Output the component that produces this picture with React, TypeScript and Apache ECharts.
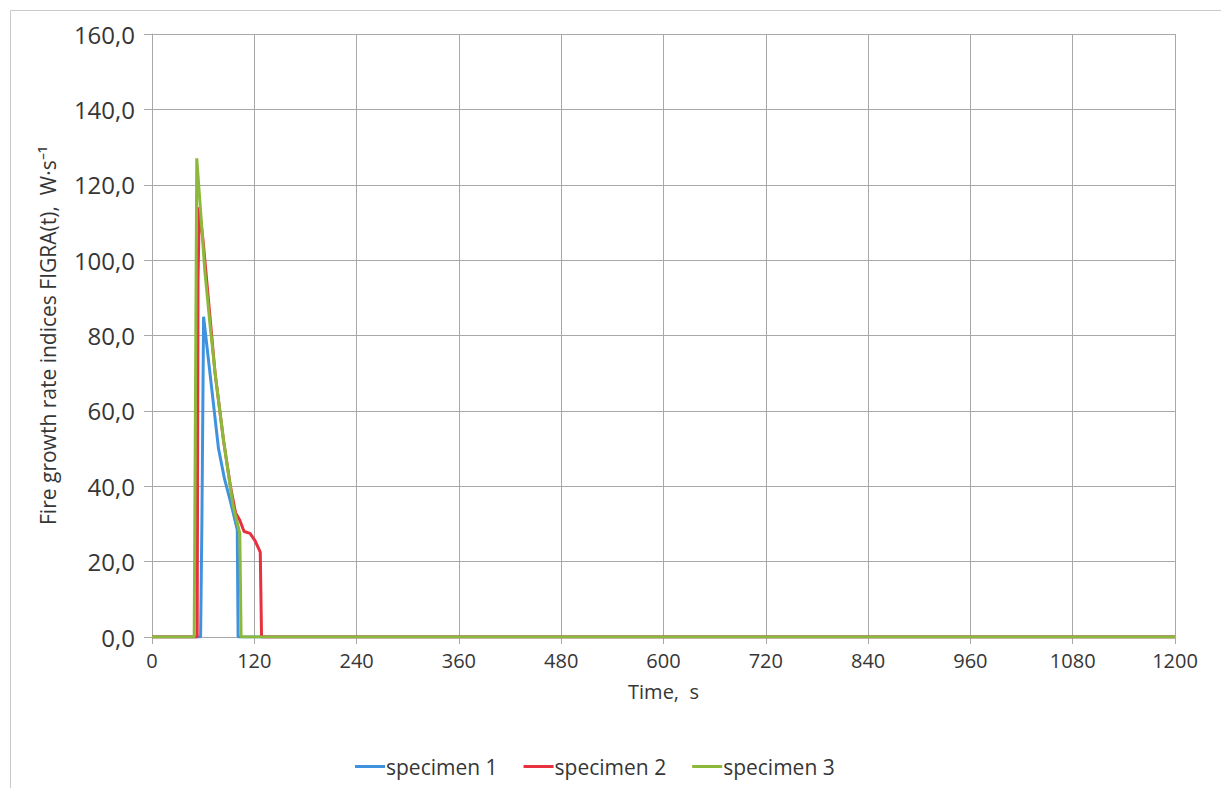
import React, { useEffect, useRef } from "react";
import * as echarts from "echarts";

const seriesNames = ["specimen 1", "specimen 2", "specimen 3"];
const seriesColors = ["#3f93de", "#e8313e", "#8db93b"];

// [time s, FIGRA W/s]
const specimen1: [number, number][] = [
  [0, 0], [57, 0], [58.5, 30], [60.5, 85], [63, 80], [66, 74], [72, 62], [78, 50],
  [85, 42], [92, 36], [100, 28.5], [101, 0], [1200, 0],
];
const specimen2: [number, number][] = [
  [0, 0], [53, 0], [54, 95], [55.5, 114], [60, 105], [66, 90], [74, 70], [84, 52],
  [92, 40], [98, 33], [103, 31], [108, 28], [115, 27.5], [121, 25.5], [127, 22.5],
  [128.5, 0], [1200, 0],
];
const specimen3: [number, number][] = [
  [0, 0], [49.5, 0], [52.5, 127], [57, 113], [62, 97], [68, 83], [74, 70], [84, 52],
  [95, 35], [103, 27.5], [104.5, 0], [1200, 0],
];

const xTicks = { min: 0, max: 1200, interval: 120 };
const yTicks = { min: 0, max: 160, interval: 20 };

const FONT = "'Open Sans', sans-serif";
const TEXT = "#363636";
const GRID = "#a8a8a8";

export default function App() {
  const ref = useRef<HTMLDivElement>(null);
  useEffect(() => {
    if (!ref.current) return;
    const chart = echarts.init(ref.current, undefined, { renderer: "svg" });
    const data = [specimen1, specimen2, specimen3];
    chart.setOption({
      animation: false,
      backgroundColor: "#ffffff",
      textStyle: { fontFamily: FONT, color: TEXT },
      graphic: [
        {
          type: "rect",
          shape: { x: 10.5, y: 10.5, width: 1400, height: 1000 },
          style: { fill: "none", stroke: "#c9c9c9", lineWidth: 1 },
          silent: true,
        },
      ],
      grid: { left: 152, right: 46, top: 34, bottom: 151, containLabel: false },
      legend: {
        bottom: 6,
        left: 350,
        icon: "rect",
        itemWidth: 30,
        itemHeight: 3,
        itemGap: 26,
        textStyle: { fontFamily: FONT, fontSize: 21, color: TEXT, padding: [0, 0, 0, -4] },
        data: seriesNames,
      },
      xAxis: {
        type: "value",
        min: xTicks.min,
        max: xTicks.max,
        interval: xTicks.interval,
        name: "Time,  s",
        nameLocation: "middle",
        nameGap: 44,
        nameTextStyle: { fontFamily: FONT, fontSize: 20, color: TEXT },
        axisLine: { show: true, lineStyle: { color: GRID, width: 1 } },
        axisTick: { show: true, length: 7, lineStyle: { color: GRID } },
        axisLabel: {
          fontFamily: FONT,
          fontSize: 20,
          color: TEXT,
          margin: 13,
          formatter: (v: number) => String(v),
        },
        splitLine: { show: true, lineStyle: { color: GRID, width: 1 } },
      },
      yAxis: {
        type: "value",
        min: yTicks.min,
        max: yTicks.max,
        interval: yTicks.interval,
        name: "Fire growth rate indices FIGRA(t),  W·s⁻¹",
        nameLocation: "middle",
        nameGap: 94,
        nameRotate: 90,
        nameTextStyle: { fontFamily: FONT, fontSize: 21, color: TEXT },
        axisLine: { show: true, lineStyle: { color: GRID, width: 1 } },
        axisTick: { show: true, length: 8, lineStyle: { color: GRID } },
        axisLabel: {
          fontFamily: FONT,
          fontSize: 24,
          color: TEXT,
          margin: 17,
          formatter: (v: number) => v.toFixed(1).replace(".", ","),
        },
        splitLine: { show: true, lineStyle: { color: GRID, width: 1 } },
      },
      series: seriesNames.map((name, i) => ({
        name,
        type: "line",
        data: data[i],
        symbol: "none",
        color: seriesColors[i],
        lineStyle: { width: 3, color: seriesColors[i] },
        z: 2 + i,
      })),
    });
    return () => chart.dispose();
  }, []);
  return (
    <div
      ref={ref}
      style={{ position: "fixed", left: 0, top: 0, width: 1221, height: 788 }}
    />
  );
}
